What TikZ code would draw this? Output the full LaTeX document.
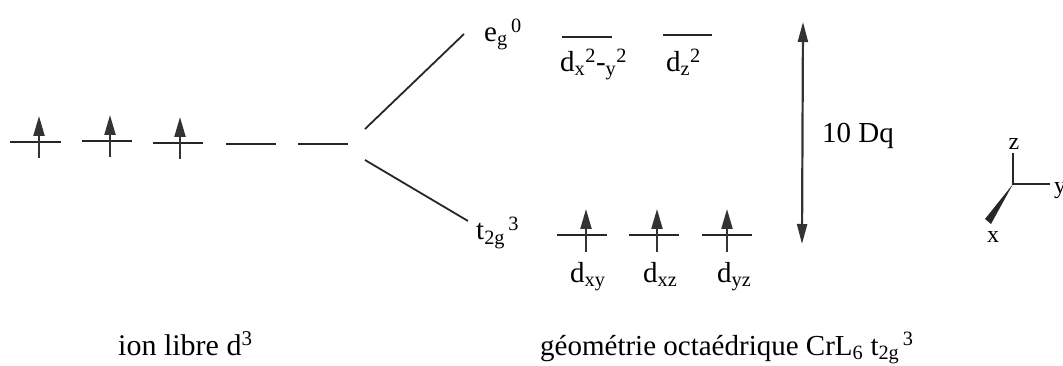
\documentclass[tikz,border=0pt]{standalone}
\usepackage{fontspec}
\setmainfont{Liberation Serif}
\usetikzlibrary{arrows.meta}
\begin{document}
\begin{tikzpicture}[x=1pt,y=-1pt,
  lvl/.style={line width=2.2pt,draw=black!85},
  spin/.style={line width=2.2pt,draw=black!80,-{Triangle[length=20pt,width=11pt]}},
  gap/.style={line width=2.2pt,draw=black!80,{Triangle[length=20pt,width=10pt]}-{Triangle[length=20pt,width=10pt]}},
  txt/.style={inner sep=0pt,anchor=base west,font=\fontsize{29}{32}\selectfont},
  ax/.style={inner sep=0pt,anchor=base,font=\fontsize{24}{26}\selectfont},
  conn/.style={line width=1.8pt,draw=black!85}]
\useasboundingbox (0,0) rectangle (1063,366);
% free ion levels
\foreach \i/\a/\b/\y in {1/10/61/142,2/82/132/141,3/153/203/143,4/226/276/144,5/298/348/144}{
  \coordinate (f\i a) at (\a,\y); \coordinate (f\i b) at (\b,\y);
  \draw[lvl] (f\i a) -- (f\i b);}
\foreach \i/\x/\y in {1/39/142,2/110/141,3/180/143}{
  \coordinate (fs\i) at (\x,\y+16); \coordinate (fe\i) at (\x,\y-26);
  \draw[spin] (fs\i) -- (fe\i);}
% splitting lines
\coordinate (s1) at (365,129); \coordinate (s2) at (464,34);
\coordinate (s3) at (365,160); \coordinate (s4) at (468,221);
\draw[conn] (s1) -- (s2);
\draw[conn] (s3) -- (s4);
% eg levels
\coordinate (e1a) at (562,37); \coordinate (e1b) at (612,37);
\coordinate (e2a) at (663,35); \coordinate (e2b) at (712,35);
\draw[lvl] (e1a) -- (e1b);
\draw[lvl] (e2a) -- (e2b);
\node[txt] (eg) at (484,42) {e\textsubscript{g}\textsuperscript{\,0}};
\node[txt] (dx2) at (560,72) {d\textsubscript{x}\textsuperscript{2}-\textsubscript{y}\textsuperscript{2}};
\node[txt] (dz2) at (666,72) {d\textsubscript{z}\textsuperscript{2}};
% t2g levels
\foreach \i/\a/\b/\x in {1/557/607/586,2/629/679/657,3/702/752/727}{
  \coordinate (t\i a) at (\a,235); \coordinate (t\i b) at (\b,235);
  \draw[lvl] (t\i a) -- (t\i b);
  \coordinate (ts\i) at (\x,252); \coordinate (te\i) at (\x,209);
  \draw[spin] (ts\i) -- (te\i);}
\node[txt] (t2g) at (476,240) {t\textsubscript{2g}\textsuperscript{\,3}};
\node[txt] (dxy) at (570,283) {d\textsubscript{xy}};
\node[txt] (dxz) at (643,283) {d\textsubscript{xz}};
\node[txt] (dyz) at (717,283) {d\textsubscript{yz}};
% 10 Dq
\coordinate (g1) at (803,22); \coordinate (g2) at (802,244);
\draw[gap] (g1) -- (g2);
\node[txt] (dq) at (822,143) {10 Dq};
% axes
\coordinate (o) at (1013,184);
\coordinate (az) at (1013,153);
\coordinate (ay) at (1050,184);
\draw[line width=1.6pt,draw=black!85] (az) -- (o) -- (ay);
\fill[black!85] (o) -- (985,219) -- (991,224) -- cycle;
\node[ax] (lz) at (1014,150) {z};
\node[ax,anchor=base west] (ly) at (1054,194) {y};
\node[ax] (lx) at (993,243) {x};
% bottom labels
\node[txt,font=\fontsize{30}{32}\selectfont] (free) at (118,355) {ion libre d\textsuperscript{3}};
\node[txt] (oct) at (540,355) {géométrie octaédrique CrL\textsubscript{6} t\textsubscript{2g}\textsuperscript{\,3}};
\end{tikzpicture}
\end{document}
